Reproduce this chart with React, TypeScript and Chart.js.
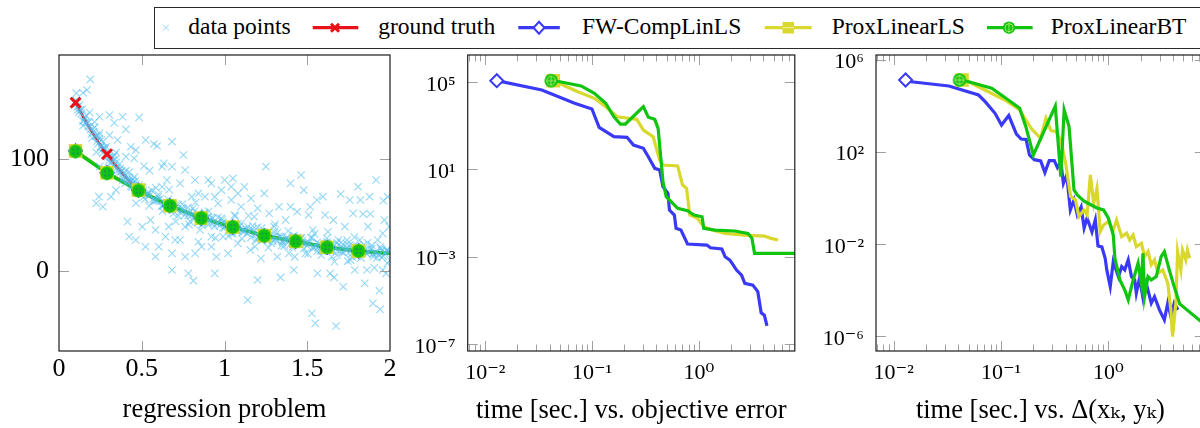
import React, { useEffect, useRef } from 'react';
import { Chart, registerables } from 'chart.js';

Chart.register(...registerables);

const FONT = "'Liberation Serif', 'DejaVu Serif', serif";
const BLUE = 'rgb(58,58,246)';
const YELLOW = 'rgb(216,216,46)';
const GREEN = 'rgb(16,196,16)';
const RED = 'rgb(232,18,24)';
const DATA = 'rgba(80,190,238,0.6)';

// ---------- regression problem ----------
const regXTicks = [0, 0.5, 1, 1.5, 2];
const regYTicks = [0, 100];

const truthX = [0.1, 0.195, 0.29, 0.385, 0.48, 0.575, 0.67, 0.765, 0.86, 0.955, 1.05, 1.145, 1.24, 1.335, 1.43, 1.525, 1.62, 1.715, 1.81, 1.905, 2.0];
const truthY = [150, 124.8, 104, 86.6, 72, 64.6, 58, 52.3, 47, 42.8, 39, 35.2, 31.3, 28.6, 26.2, 23.4, 20.9, 19.2, 17.6, 16.5, 15.5];

const fitX = [0.1, 0.29, 0.48, 0.67, 0.86, 1.05, 1.24, 1.43, 1.62, 1.81, 2.0];
const fwFitY = [107, 87.5, 72, 58, 47, 39, 31.3, 26.2, 20.9, 17.6, 15.5];
const lsFitY = [107, 87.5, 72, 58, 47, 39, 31.3, 26.2, 20.9, 17.6, 15.5];
const btFitY = [106.5, 87, 71.5, 58, 47, 39, 31.3, 26.2, 20.9, 17.6, 15.5];

const bandAX = [0.10, 0.12, 0.14, 0.16, 0.18, 0.20, 0.22, 0.24, 0.26, 0.28, 0.30, 0.32, 0.34, 0.36, 0.38, 0.40, 0.42, 0.44, 0.46, 0.48, 0.50, 0.52, 0.54, 0.56, 0.58, 0.60, 0.62, 0.64, 0.66, 0.68, 0.70, 0.72, 0.74, 0.76, 0.78, 0.80, 0.82, 0.84, 0.86, 0.88, 0.90, 0.92, 0.94, 0.96, 0.98, 1.00, 1.02, 1.04, 1.06, 1.08, 1.10, 1.12, 1.14, 1.16, 1.18, 1.20, 1.22, 1.24, 1.26, 1.28, 1.30, 1.32, 1.34, 1.36, 1.38, 1.40, 1.42, 1.44, 1.46, 1.48, 1.50, 1.52, 1.54, 1.56, 1.58, 1.60, 1.62, 1.64, 1.66, 1.68, 1.70, 1.72, 1.74, 1.76, 1.78, 1.80, 1.82, 1.84, 1.86, 1.88, 1.90, 1.92, 1.94, 1.96, 1.98, 2.00];
const bandAY = [152, 141.3, 143.8, 132.6, 132.5, 118.6, 119.9, 120.4, 108.1, 108.9, 98, 98.1, 99.4, 87.8, 89.4, 78.1, 82.9, 74.8, 79.9, 71, 74.4, 63.8, 68.3, 71.8, 62.3, 65.9, 57.5, 60.1, 63.7, 54.4, 58.2, 49, 55.8, 49.6, 56.4, 49.3, 53.2, 43.1, 48, 52.1, 43.2, 47.3, 39.5, 42.6, 46.8, 38, 42.2, 33.4, 40.8, 34.9, 42, 35.2, 39.4, 29.5, 34.7, 39, 30.2, 34.3, 26.8, 30.2, 34.6, 26.1, 30.5, 22, 29.5, 24, 31.5, 24.9, 29.3, 19.7, 25.1, 29.5, 21, 25.4, 17.9, 21.4, 25.9, 17.5, 22.2, 13.8, 21.4, 16.1, 23.7, 17.4, 22.1, 12.8, 18.5, 23.3, 15, 19.8, 12.6, 16.3, 21.1, 12.9, 17.7, 9.5];

const bandBX = [0.11, 0.13, 0.15, 0.17, 0.19, 0.21, 0.23, 0.25, 0.27, 0.29, 0.31, 0.33, 0.35, 0.37, 0.39, 0.41, 0.43, 0.45, 0.47, 0.49, 0.51, 0.53, 0.55, 0.57, 0.59, 0.61, 0.63, 0.65, 0.67, 0.69, 0.71, 0.73, 0.75, 0.77, 0.79, 0.81, 0.83, 0.85, 0.87, 0.89, 0.91, 0.93, 0.95, 0.97, 0.99, 1.01, 1.03, 1.05, 1.07, 1.09, 1.11, 1.13, 1.15, 1.17, 1.19, 1.21, 1.23, 1.25, 1.27, 1.29, 1.31, 1.33, 1.35, 1.37, 1.39, 1.41, 1.43, 1.45, 1.47, 1.49, 1.51, 1.53, 1.55, 1.57, 1.59, 1.61, 1.63, 1.65, 1.67, 1.69, 1.71, 1.73, 1.75, 1.77, 1.79, 1.81, 1.83, 1.85, 1.87, 1.89, 1.91, 1.93, 1.95, 1.97, 1.99];
const bandBY = [146.2, 143.6, 134.2, 132.1, 126.1, 124.3, 115.7, 110.3, 110, 104, 101.1, 93.3, 91.6, 91.1, 83.8, 83.5, 79.4, 79.4, 72.5, 69.2, 71.6, 68.1, 67.6, 62.1, 62.6, 64.2, 58.8, 60.4, 58.1, 59.8, 54.6, 52.4, 55.2, 52, 51.9, 46.8, 47.7, 49.6, 44.6, 46.7, 44.8, 46.9, 42.1, 40.2, 43.4, 40.6, 40.8, 36, 37.4, 39.5, 34.6, 36.8, 35, 37.1, 32.4, 30.6, 33.8, 31.1, 31.5, 26.9, 28.4, 30.8, 26.3, 28.8, 27.3, 29.8, 25.2, 23.6, 27, 24.4, 24.8, 20.3, 21.7, 24.2, 19.7, 22.2, 20.7, 23.4, 19, 17.6, 21.3, 18.9, 19.6, 15.3, 17, 19.6, 15.4, 18.2, 16.9, 19.7, 15.5, 14.2, 18, 15.8, 16.6];

const bandCX = [0.105, 0.145, 0.185, 0.225, 0.265, 0.305, 0.345, 0.385, 0.425, 0.465, 0.505, 0.545, 0.585, 0.625, 0.665, 0.705, 0.745, 0.785, 0.825, 0.865, 0.905, 0.945, 0.985, 1.025, 1.065, 1.105, 1.145, 1.185, 1.225, 1.265, 1.305, 1.345, 1.385, 1.425, 1.465, 1.505, 1.545, 1.585, 1.625, 1.665, 1.705, 1.745, 1.785, 1.825, 1.865, 1.905, 1.945, 1.985];
const bandCY = [158.5, 129.5, 141.3, 105.8, 115, 91, 105.5, 80.6, 88.1, 60.2, 74, 57.9, 74, 53.1, 72.4, 43.9, 59.5, 41.1, 60.9, 40.8, 53, 29.3, 45.6, 31, 48.6, 28.8, 49.2, 21.5, 38, 20.6, 41.5, 22.4, 35.4, 12.4, 29.2, 14.9, 32.9, 13.8, 34.8, 8.1, 25.3, 8.6, 30, 11.5, 25, 2.5, 20, 6.6];

const bandDX = [0.105, 0.115, 0.125, 0.135, 0.145, 0.155, 0.165, 0.175, 0.185, 0.195, 0.205, 0.215, 0.225, 0.235, 0.245, 0.255, 0.265, 0.275, 0.285, 0.295, 0.305, 0.315, 0.325, 0.335, 0.345, 0.355, 0.365, 0.375, 0.385, 0.395, 0.405, 0.415, 0.425, 0.435, 0.445, 0.455, 0.465, 0.475, 0.485, 0.495];
const bandDY = [151.6, 143.7, 148.0, 140.2, 133.5, 136.9, 138.3, 128.8, 128.3, 121.8, 126.4, 128.1, 120.8, 113.5, 118.3, 111.2, 105.0, 109.0, 110.9, 102.0, 102.0, 96.1, 101.2, 103.3, 96.5, 89.7, 95.0, 88.3, 82.6, 86.9, 89.3, 80.7, 81.1, 75.6, 81.1, 83.6, 77.2, 70.7, 76.6, 70.8];

const bandEX = [0.51, 0.54, 0.57, 0.60, 0.63, 0.66, 0.69, 0.72, 0.75, 0.78, 0.81, 0.84, 0.87, 0.90, 0.93, 0.96, 0.99, 1.02, 1.05, 1.08, 1.11, 1.14, 1.17, 1.20, 1.23, 1.26, 1.29, 1.32, 1.35, 1.38, 1.41, 1.44, 1.47, 1.50, 1.53, 1.56, 1.59, 1.62, 1.65, 1.68, 1.71, 1.74, 1.77, 1.80, 1.83, 1.86, 1.89, 1.92, 1.95, 1.98];
const bandEY = [65.6, 70.3, 64.1, 67.9, 57.8, 59.7, 50.8, 59.0, 53.2, 49.4, 55.8, 43.1, 42.6, 48.2, 42.9, 47.6, 38.4, 41.2, 33.0, 41.9, 36.6, 33.4, 40.1, 28.0, 27.8, 33.8, 28.9, 34.1, 25.3, 28.5, 20.8, 29.9, 25.0, 22.1, 29.3, 17.4, 17.7, 23.9, 19.4, 24.8, 16.3, 19.7, 12.3, 21.8, 17.4, 15.0, 22.7, 11.3, 12.0, 18.7];

const scatterX = [0.189, 0.169, 0.145, 0.245, 0.215, 0.305, 0.384, 0.334, 0.404, 0.484, 0.245, 0.305, 0.255, 0.354, 0.434, 0.464, 0.523, 0.573, 0.593, 0.683, 0.752, 0.623, 0.633, 0.513, 0.547, 0.404, 0.454, 0.245, 0.241, 0.225, 0.314, 0.265, 0.344, 0.414, 0.464, 0.523, 0.424, 0.583, 0.643, 0.683, 0.702, 0.762, 0.792, 0.842, 0.862, 0.901, 0.921, 0.782, 0.812, 0.852, 0.882, 0.901, 0.961, 0.951, 0.941, 1.001, 1.051, 1.041, 1.061, 1.081, 1.120, 1.160, 1.180, 1.140, 1.2, 1.250, 1.240, 1.270, 1.300, 1.329, 1.339, 1.399, 1.439, 1.463, 1.479, 1.508, 1.528, 1.548, 1.562, 1.594, 1.608, 1.638, 1.662, 1.674, 1.702, 1.717, 1.741, 1.761, 1.807, 1.821, 1.837, 1.847, 1.861, 1.881, 1.897, 1.916, 1.936, 1.956, 1.966, 1.940, 1.96, 1.976, 1.996, 0.991, 1.021, 1.081, 1.110, 1.156, 1.190, 1.220, 1.284, 1.319, 1.363, 1.389, 1.419, 1.455, 1.489, 1.534, 1.568, 1.618, 1.648, 1.688, 1.727, 1.757, 1.787, 1.817, 1.867, 1.897, 1.926, 1.956, 1.986, 1.369, 1.518, 1.658, 1.777, 1.877, 1.986, 1.757, 1.558, 1.399, 0.683, 0.762, 0.822, 0.842, 0.921, 0.981, 1.041, 0.941, 0.802, 0.732, 0.653, 0.623, 0.882, 1.100, 1.2, 0.503, 0.553, 0.603, 0.663, 0.732, 0.822, 0.683, 0.583, 0.762, 0.921];
const scatterY = [170.8, 161.3, 158.9, 137.5, 133, 139, 137.5, 132, 126.2, 136.9, 122.6, 121, 116.7, 116.7, 110.7, 107.7, 116.7, 113.1, 111.3, 115.2, 103.3, 92.9, 95.8, 93.5, 89.3, 101.8, 100.3, 92.9, 66.1, 60.1, 66.1, 57.1, 72, 43.8, 27.4, 21.4, 30.4, 36.3, 30.4, 15.5, 27.4, 39.3, 43.8, 25.9, 21.4, 40.8, 30.4, -2.4, -8.9, 36.3, 51.2, 81, 60.1, 12.5, -2.4, 81, 82.4, 75, 49.7, 69, 75, 64.6, 48.2, -26.2, -8.3, 92.9, 69, 51.2, 39.3, 57.1, -6, 78, 52.7, 85.4, 72, 49.7, -38.1, -47, -2.4, 66.1, 49.7, -2.4, -6, -49.4, 68.5, -14.3, 27.4, 9.5, 75, 63.1, 50.6, -11.3, 0.6, 50.6, -29.2, 81, -17.9, 33.3, 45.2, -34.5, 62.5, -2.4, 39.3, 30.4, 15.5, 24.4, 36.3, 18.5, 27.4, 11, 24.4, 12.5, 27.4, 15.5, 0.6, 27.4, 15.5, 36.3, 21.4, 28.9, 12.5, 27.4, 39.3, 22.9, 0.6, 27.4, 39.3, 15.5, 27.4, 0.6, 18.5, 45.2, 57.1, 45.2, 51.2, 66.1, 66.1, 63.1, 63.1, 57.1, 92.9, 89.9, 81, 69, 78, 72, 63.1, 66.1, 66.1, 78, 81, 75, 66.1, 57.1, 55.7, 39.3, 45.2, 21.4, 39.3, 27.4, 15.5, 0.6, 12.5, 12.5, 21.4];

// ---------- time axis (shared) ----------
const timeTicks = [0.01, 0.1, 1];
const timeMinor = [0.007, 0.008, 0.009, 0.02, 0.03, 0.04, 0.05, 0.06, 0.07, 0.08, 0.09, 0.2, 0.3, 0.4, 0.5, 0.6, 0.7, 0.8, 0.9, 2, 3, 4, 5, 6, 7];

// ---------- objective error ----------
const objTicks = [1e-7, 1e-3, 1e1, 1e5];
const fwObjT = [0.0128, 0.0338, 0.0686, 0.0996, 0.1164, 0.160, 0.212, 0.244, 0.302, 0.336, 0.386, 0.429, 0.461, 0.513, 0.530, 0.589, 0.611, 0.679, 0.782, 1.19, 1.28, 1.64, 1.76, 1.95, 2.10, 2.25, 2.51, 2.69, 3.20, 3.56, 3.83, 4.10, 4.34];
const fwObjV = [1.15e5, 4.3e4, 1.06e4, 5.8e3, 841, 312, 293, 130, 91.8, 37.8, 11.1, 9.3, 1.6, 0.80, 0.137, 0.081, 0.0199, 0.0166, 0.0038, 0.0034, 0.00257, 0.00224, 0.00099, 0.0007, 0.000414, 0.000244, 0.000144, 6.0e-5, 5.0e-5, 2.5e-5, 2.7e-6, 2.1e-6, 6.7e-7];
const lsObjT = [0.0433, 0.0736, 0.105, 0.134, 0.172, 0.262, 0.302, 0.373, 0.429, 0.461, 0.633, 0.703, 0.766, 0.822, 0.966, 1.11, 1.33, 1.76, 2.69, 4.10, 4.73, 5.52];
const lsObjV = [1.15e5, 3.6e4, 1.79e4, 7.4e3, 2.57e3, 1.95e3, 632, 312, 26.7, 15.8, 14.2, 1.91, 1.35, 0.081, 0.057, 0.0235, 0.0166, 0.0117, 0.0098, 0.0088, 0.0069, 0.0058];
const btObjT = [0.0413, 0.050, 0.0789, 0.105, 0.134, 0.160, 0.184, 0.205, 0.302, 0.336, 0.386, 0.415, 0.461, 0.494, 0.570, 0.633, 0.782, 0.900, 1.07, 1.11, 1.42, 2.17, 2.88, 3.14, 3.32, 10];
const btObjV = [1.15e5, 1.03e5, 6.6e4, 3.03e4, 1.06e4, 2.57e3, 1.19e3, 1.19e3, 7.4e3, 2.42e3, 1.95e3, 757, 2.71, 0.557, 0.277, 0.164, 0.127, 0.081, 0.0676, 0.0199, 0.0166, 0.015, 0.0117, 0.0069, 0.00142, 0.00142];

// ---------- Delta(x_k, y_k) ----------
const deltaTicks = [1e-6, 1e-2, 1e2, 1e6];
const fwDeltaT = [0.0129, 0.01455, 0.0327, 0.0617, 0.0711, 0.0879, 0.101, 0.118, 0.139, 0.154, 0.171, 0.184, 0.204, 0.234, 0.256, 0.281, 0.313, 0.335, 0.360, 0.381, 0.409, 0.442, 0.478, 0.513, 0.557, 0.594, 0.633, 0.703, 0.755, 0.800, 0.869, 0.933, 0.966, 1.04, 1.11, 1.24, 1.33, 1.42, 1.53, 1.64, 1.76, 1.82, 1.95, 2.10, 2.25, 2.51, 2.69, 2.99, 3.32, 3.57, 3.82, 4.10, 4.44];
const fwDeltaV = [1.29e5, 1.09e5, 7.08e4, 2.88e4, 1.48e4, 4.63e3, 1.44e3, 3.71e3, 586, 356, 338, 72, 45, 39.5, 12.3, 40.7, 40.7, 20.7, 36.8, 4.26, 9.75, 0.296, 0.80, 0.179, 0.399, 0.049, 0.133, 0.0328, 0.109, 0.0081, 0.00735, 0.00237, 7.4e-4, 1.39e-4, 1.69e-3, 3.78e-4, 1.03e-3, 7.4e-4, 2.0e-3, 3.78e-4, 2.7e-4, 7.2e-5, 3.2e-4, 4.4e-5, 1.95e-4, 2.65e-5, 5.1e-5, 1.36e-5, 5.0e-6, 2.65e-5, 6.95e-6, 2.65e-5, 1.36e-5];
const lsDeltaT = [0.0433, 0.050, 0.0762, 0.1086, 0.149, 0.191, 0.233, 0.262, 0.291, 0.324, 0.360, 0.400, 0.445, 0.494, 0.531, 0.590, 0.633, 0.679, 0.729, 0.782, 0.839, 0.901, 1.00, 1.11, 1.19, 1.33, 1.48, 1.58, 1.70, 1.82, 2.03, 2.17, 2.34, 2.51, 2.69, 2.89, 3.21, 3.57, 3.82, 3.96, 4.25, 4.41, 4.73, 4.90, 5.26, 5.45, 5.72];
const lsDeltaV = [1.29e5, 1.09e5, 4.0e4, 1.75e4, 6.44e3, 1.04e3, 381, 2.81e3, 832, 738, 322, 31.4, 1.12, 0.80, 0.151, 0.296, 0.179, 9.75, 0.577, 2.58, 0.0338, 0.066, 0.092, 0.040, 0.109, 0.0205, 0.0288, 0.0148, 0.0243, 0.0076, 0.0106, 0.00279, 0.00459, 0.00122, 0.0020, 5.3e-4, 7.4e-4, 1.95e-4, 1.36e-5, 9.4e-7, 2.65e-5, 4.6e-3, 7.4e-4, 5.4e-3, 2.0e-3, 5.4e-3, 2.37e-3];
const btDeltaT = [0.041, 0.050, 0.0818, 0.1086, 0.149, 0.171, 0.200, 0.320, 0.360, 0.387, 0.430, 0.478, 0.513, 0.590, 0.679, 0.782, 0.901, 1.00, 1.11, 1.15, 1.28, 1.42, 1.53, 1.70, 1.89, 2.03, 2.10, 2.17, 2.34, 2.51, 2.79, 3.10, 3.32, 3.69, 4.10, 4.62, 8.0];
const btDeltaV = [1.29e5, 1.09e5, 5.64e4, 2.24e4, 7.64e3, 1.12e3, 72, 9.6e3, 8.2, 6.44e3, 1.22e3, 2.18, 1.32, 0.726, 0.512, 0.361, 0.296, 0.129, 0.0243, 0.00237, 2.7e-4, 1.0e-4, 3.7e-5, 2.7e-4, 1.44e-3, 1.95e-4, 3.9e-3, 5.1e-5, 3.78e-4, 2.7e-4, 3.78e-4, 2.79e-3, 4.59e-3, 7.4e-4, 1.39e-4, 2.47e-5, 3.0e-6];

// ---------- helpers ----------
const SUP: Record<string, string> = { '-': '\u207B', '0': '\u2070', '1': '\u00B9', '2': '\u00B2', '3': '\u00B3', '4': '\u2074', '5': '\u2075', '6': '\u2076', '7': '\u2077', '8': '\u2078', '9': '\u2079' };
const pow10 = (v: number) => '10' + String(Math.round(Math.log10(v))).split('').map((c) => SUP[c]).join('');
const xy = (xs: number[], ys: number[]) => xs.map((x, i) => ({ x, y: ys[i] }));
const concat = (...arrs: number[][]) => ([] as number[]).concat(...arrs);

function makeOplus(dots: boolean) {
  const c = document.createElement('canvas');
  c.width = 16; c.height = 16;
  const g = c.getContext('2d')!;
  g.fillStyle = GREEN;
  g.beginPath(); g.arc(8, 8, 6.7, 0, Math.PI * 2); g.fill();
  if (dots) {
    g.fillStyle = 'rgba(40,70,210,0.9)';
    for (const [dx, dy] of [[-2, -2], [2, -2], [-2, 2], [2, 2]]) g.fillRect(8 + dx - 0.6, 8 + dy - 0.6, 1.2, 1.2);
  } else {
    g.strokeStyle = 'rgba(190,235,110,0.85)';
    g.lineWidth = 1;
    g.beginPath(); g.moveTo(8, 3); g.lineTo(8, 13); g.moveTo(3, 8); g.lineTo(13, 8); g.stroke();
    g.beginPath(); g.arc(8, 8, 4.3, 0, Math.PI * 2); g.stroke();
  }
  return c;
}

const frameTicks = {
  id: 'frameTicks',
  afterDatasetsDraw(chart: any, _a: any, o: any) {
    const { ctx } = chart;
    const { left, right, top, bottom } = chart.chartArea;
    const sx = chart.scales.x, sy = chart.scales.y;
    ctx.save();
    ctx.strokeStyle = '#a0a0a0';
    ctx.lineWidth = 1;
    const xs = (vals: number[], len: number) => {
      for (const v of vals) {
        const p = Math.round(sx.getPixelForValue(v)) + 0.5;
        if (p < left + 1 || p > right - 1) continue;
        ctx.beginPath(); ctx.moveTo(p, bottom); ctx.lineTo(p, bottom - len); ctx.moveTo(p, top); ctx.lineTo(p, top + len); ctx.stroke();
      }
    };
    const ys = (vals: number[], len: number) => {
      for (const v of vals) {
        const p = Math.round(sy.getPixelForValue(v)) + 0.5;
        if (p < top + 1 || p > bottom - 1) continue;
        ctx.beginPath(); ctx.moveTo(left, p); ctx.lineTo(left + len, p); ctx.moveTo(right, p); ctx.lineTo(right - len, p); ctx.stroke();
      }
    };
    xs(o.xMajor || [], 10); xs(o.xMinor || [], 6.5);
    ys(o.yMajor || [], 10); ys(o.yMinor || [], 6.5);
    ctx.strokeStyle = '#1c1c1c';
    ctx.lineWidth = 1.2;
    ctx.strokeRect(left, top, right - left, bottom - top);
    ctx.restore();
  },
};

function axisBase(width: number | null, height: number | null) {
  return {
    bounds: 'data',
    grid: { display: false, drawTicks: false },
    border: { display: false },
    afterFit: (s: any) => {
      if (width !== null) s.width = width;
      if (height !== null) s.height = height;
      s.paddingLeft = 0; s.paddingRight = 0; s.paddingTop = 0; s.paddingBottom = 0;
    },
  };
}

function regressionConfig(oplusDots: HTMLCanvasElement): any {
  const marked = (c: any) => (c.dataIndex < 10 ? 1 : 0);
  return {
    type: 'line',
    data: {
      datasets: [
        { data: xy(truthX, truthY), borderColor: RED, borderWidth: 2.6, pointRadius: 0, cubicInterpolationMode: 'monotone', order: 10 },
        { data: xy(fitX, fwFitY), borderColor: BLUE, borderWidth: 3.2, pointRadius: 0, order: 9 },
        { data: xy(fitX, lsFitY), borderColor: YELLOW, borderWidth: 3.2, pointRadius: 0, order: 8 },
        { data: xy(fitX, btFitY), borderColor: GREEN, borderWidth: 3.4, pointRadius: 0, order: 7 },
        {
          data: xy(concat(bandAX, bandBX, bandCX, bandDX, bandEX, scatterX), concat(bandAY, bandBY, bandCY, bandDY, bandEY, scatterY)),
          showLine: false, pointStyle: 'crossRot', pointRadius: 5.2, pointBorderColor: DATA, pointBorderWidth: 1.1, order: 5,
        },
        {
          data: xy(truthX, truthY), showLine: false, pointStyle: 'crossRot',
          pointRadius: (c: any) => (c.dataIndex % 2 === 0 && c.dataIndex < 19 ? 7 : 0),
          pointBorderColor: RED, pointBorderWidth: 3, order: 4,
        },
        {
          data: xy(fitX, fwFitY), showLine: false, pointStyle: 'rectRot',
          pointRadius: (c: any) => marked(c) * 6.5, pointBackgroundColor: '#fff', pointBorderColor: BLUE, pointBorderWidth: 2, order: 3,
        },
        {
          data: xy(fitX, lsFitY), showLine: false, pointStyle: 'rect',
          pointRadius: (c: any) => marked(c) * 9.6, pointBackgroundColor: YELLOW, pointBorderWidth: 0, order: 2,
        },
        {
          data: xy(fitX, btFitY), showLine: false, pointStyle: oplusDots,
          pointRadius: (c: any) => marked(c) * 7, order: 1,
        },
      ],
    },
    options: {
      animation: false, responsive: false, devicePixelRatio: 1,
      layout: { padding: { left: 0, right: 6, top: 55, bottom: 0 } },
      plugins: { legend: { display: false }, tooltip: { enabled: false }, frameTicks: { xMajor: regXTicks, yMajor: regYTicks } },
      scales: {
        x: {
          ...axisBase(null, 77), type: 'linear', min: 0, max: 2,
          afterBuildTicks: (s: any) => { s.ticks = regXTicks.map((v) => ({ value: v })); },
          ticks: { callback: (v: any) => String(v), font: { family: FONT, size: 26 }, color: '#000', padding: 3, maxRotation: 0, autoSkip: false },
          title: { display: true, text: 'regression problem', font: { family: FONT, size: 26.5 }, color: '#000', padding: { top: 0, bottom: 2 } },
        },
        y: {
          ...axisBase(59, null), type: 'linear', min: -71.7, max: 192.6,
          afterBuildTicks: (s: any) => { s.ticks = regYTicks.map((v) => ({ value: v })); },
          ticks: { callback: (v: any) => String(v), font: { family: FONT, size: 26 }, color: '#000', padding: 10, autoSkip: false },
        },
      },
    },
    plugins: [frameTicks],
  };
}

function convergenceConfig(p: {
  fw: [number[], number[]]; ls: [number[], number[]]; bt: [number[], number[]];
  yMin: number; yMax: number; yTicks: number[]; yWidth: number; rightPad: number; title: string; oplus: HTMLCanvasElement;
}): any {
  const first = (r: number) => (c: any) => (c.dataIndex === 0 ? r : 0);
  return {
    type: 'line',
    data: {
      datasets: [
        { data: xy(p.fw[0], p.fw[1]), borderColor: BLUE, borderWidth: 3.2, pointStyle: 'rectRot', pointRadius: first(6.5), pointBackgroundColor: '#fff', pointBorderColor: BLUE, pointBorderWidth: 2, order: 3 },
        { data: xy(p.ls[0], p.ls[1]), borderColor: YELLOW, borderWidth: 3.2, pointStyle: 'rect', pointRadius: first(9.6), pointBackgroundColor: YELLOW, pointBorderWidth: 0, order: 2 },
        { data: xy(p.bt[0], p.bt[1]), borderColor: GREEN, borderWidth: 3.2, pointStyle: p.oplus, pointRadius: first(7), order: 1 },
      ],
    },
    options: {
      animation: false, responsive: false, devicePixelRatio: 1,
      layout: { padding: { left: 0, right: p.rightPad, top: 55, bottom: 0 } },
      plugins: { legend: { display: false }, tooltip: { enabled: false }, frameTicks: { xMajor: timeTicks, xMinor: timeMinor, yMajor: p.yTicks } },
      scales: {
        x: {
          ...axisBase(null, 77), type: 'logarithmic', min: Math.pow(10, -2.165), max: Math.pow(10, 0.898),
          afterBuildTicks: (s: any) => { s.ticks = timeTicks.map((v) => ({ value: v })); },
          ticks: { callback: (v: any) => pow10(v), font: { family: FONT, size: 22 }, color: '#000', padding: 9, maxRotation: 0, autoSkip: false },
          title: { display: true, text: p.title, font: { family: FONT, size: 26.5 }, color: '#000', padding: { top: 0, bottom: 1 } },
        },
        y: {
          ...axisBase(p.yWidth, null), type: 'logarithmic', min: p.yMin, max: p.yMax,
          afterBuildTicks: (s: any) => { s.ticks = p.yTicks.map((v) => ({ value: v })); },
          ticks: { callback: (v: any) => pow10(v), font: { family: FONT, size: 22 }, color: '#000', padding: 12, labelOffset: 3, autoSkip: false },
        },
      },
    },
    plugins: [frameTicks],
  };
}

function Legend() {
  const text: React.CSSProperties = { position: 'absolute', top: 14.6, fontFamily: FONT, fontSize: 23.5, lineHeight: '23.5px', color: '#000', whiteSpace: 'nowrap' };
  const svg = (left: number, w: number, children: React.ReactNode) => (
    <svg style={{ position: 'absolute', left, top: 17 }} width={w} height={22} viewBox={`0 0 ${w} 22`}>{children}</svg>
  );
  return (
    <>
      <div style={{ position: 'absolute', left: 154, top: 7, width: 1100, height: 42, border: '1.3px solid #2a2a2a', boxSizing: 'border-box', background: '#fff' }} />
      {svg(160, 12, <g stroke="rgba(120,205,240,0.8)" strokeWidth={1}><line x1={3} y1={7.7} x2={9} y2={13.7} /><line x1={9} y1={7.7} x2={3} y2={13.7} /></g>)}
      <div style={{ ...text, left: 188.3 }}>data points</div>
      {svg(312, 48, <g><line x1={0.7} y1={10.7} x2={46.3} y2={10.7} stroke={RED} strokeWidth={3.2} /><g stroke={RED} strokeWidth={3}><line x1={19} y1={6.7} x2={27} y2={14.7} /><line x1={27} y1={6.7} x2={19} y2={14.7} /></g></g>)}
      <div style={{ ...text, left: 378.3 }}>ground truth</div>
      {svg(517, 44, <g><line x1={1.3} y1={10.7} x2={42.8} y2={10.7} stroke={BLUE} strokeWidth={3.2} /><path d="M22 4.7 L27.5 10.7 L22 16.7 L16.5 10.7 Z" fill="#fff" stroke={BLUE} strokeWidth={2} /></g>)}
      <div style={{ ...text, left: 582 }}>FW-CompLinLS</div>
      {svg(764, 49, <g><line x1={0.7} y1={10.7} x2={47.6} y2={10.7} stroke={YELLOW} strokeWidth={3.2} /><rect x={18.5} y={5} width={11.5} height={11.5} fill={YELLOW} /><line x1={18.5} y1={10.7} x2={30} y2={10.7} stroke="rgba(255,255,200,0.7)" strokeWidth={1} /></g>)}
      <div style={{ ...text, left: 831.7 }}>ProxLinearLS</div>
      {svg(986, 48, <g><line x1={1} y1={10.7} x2={46.6} y2={10.7} stroke={GREEN} strokeWidth={3.2} /><circle cx={23} cy={10.7} r={6.2} fill={GREEN} /><line x1={23} y1={5.5} x2={23} y2={15.9} stroke="rgba(190,235,110,0.85)" strokeWidth={1} /><circle cx={23} cy={10.7} r={4} fill="none" stroke="rgba(190,235,110,0.85)" strokeWidth={1} /></g>)}
      <div style={{ ...text, left: 1050.7 }}>ProxLinearBT</div>
    </>
  );
}

export default function App() {
  const r1 = useRef<HTMLCanvasElement>(null);
  const r2 = useRef<HTMLCanvasElement>(null);
  const r3 = useRef<HTMLCanvasElement>(null);

  useEffect(() => {
    Chart.defaults.font.family = FONT;
    const oplus = makeOplus(false);
    const oplusDots = makeOplus(true);
    const charts: Chart[] = [];
    charts.push(new Chart(r1.current!, regressionConfig(oplusDots)));
    charts.push(new Chart(r2.current!, convergenceConfig({
      fw: [fwObjT, fwObjV], ls: [lsObjT, lsObjV], bt: [btObjT, btObjV],
      yMin: Math.pow(10, -7.32), yMax: Math.pow(10, 6.237), yTicks: objTicks, yWidth: 67.7, rightPad: 4,
      title: 'time [sec.] vs. objective error', oplus,
    })));
    charts.push(new Chart(r3.current!, convergenceConfig({
      fw: [fwDeltaT, fwDeltaV], ls: [lsDeltaT, lsDeltaV], bt: [btDeltaT, btDeltaV],
      yMin: Math.pow(10, -6.651), yMax: Math.pow(10, 6.197), yTicks: deltaTicks, yWidth: 71, rightPad: 5.7,
      title: 'time [sec.] vs. \u0394(x\u2096, y\u2096)', oplus,
    })));
    return () => charts.forEach((c) => c.destroy());
  }, []);

  return (
    <div style={{ position: 'fixed', left: 0, top: 0, width: 1200, height: 428, overflow: 'hidden', background: '#fff' }}>
      <canvas ref={r1} width={400} height={428} style={{ position: 'absolute', left: 0, top: 0, width: 400, height: 428 }} />
      <canvas ref={r2} width={405} height={428} style={{ position: 'absolute', left: 400, top: 0, width: 405, height: 428 }} />
      <canvas ref={r3} width={410} height={428} style={{ position: 'absolute', left: 805, top: 0, width: 410, height: 428 }} />
      <Legend />
    </div>
  );
}
